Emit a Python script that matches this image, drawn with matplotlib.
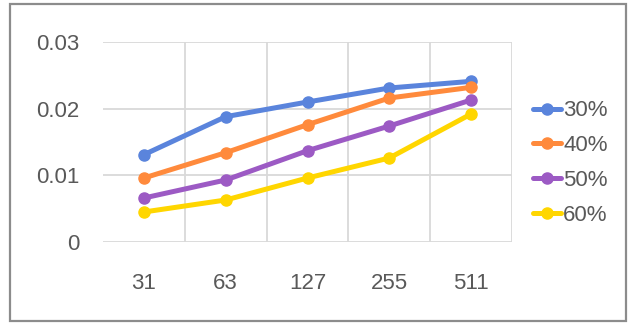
import matplotlib
matplotlib.use("Agg")
import matplotlib.pyplot as plt
from matplotlib.patches import Rectangle

# data
categories = ["31", "63", "127", "255", "511"]
series_names = ["30%", "40%", "50%", "60%"]
s30 = [0.0131, 0.0188, 0.0210, 0.0231, 0.0241]
s40 = [0.0096, 0.0134, 0.0176, 0.0216, 0.0232]
s50 = [0.0066, 0.0093, 0.0137, 0.0174, 0.0213]
s60 = [0.0045, 0.0063, 0.0096, 0.0126, 0.0192]
yticks = [0, 0.01, 0.02, 0.03]
ytick_labels = ["0", "0.01", "0.02", "0.03"]

colors = ["#5A84DC", "#FF8A3C", "#9C5AC4", "#FFD600"]

plt.rcParams["font.family"] = ["Liberation Sans", "DejaVu Sans"]
text_color = "#595959"

fig = plt.figure(figsize=(6.3, 3.23), dpi=100)
ax = fig.add_axes([103 / 630, 1 - 242 / 323, 409 / 630, 200 / 323])

x = list(range(len(categories)))
for vals, name, c in zip([s30, s40, s50, s60], series_names, colors):
    ax.plot(x, vals, color=c, linewidth=3.6, marker="o", markersize=8,
            label=name, solid_capstyle="round", zorder=3)

ax.set_xlim(-0.5, len(categories) - 0.5)
ax.set_ylim(0, 0.03)
ax.set_yticks(yticks)
ax.set_yticklabels(ytick_labels)
ax.set_xticks(x)
ax.set_xticklabels(categories)

# category boundaries for vertical gridlines
for b in [i + 0.5 for i in range(len(categories))]:
    ax.axvline(b, color="#D9D9D9", linewidth=1.3, zorder=1)
for yv in yticks:
    ax.axhline(yv, color="#D9D9D9", linewidth=1.3, zorder=1)

for s in ax.spines.values():
    s.set_visible(False)
ax.tick_params(axis="both", length=0, labelsize=16, colors=text_color)
ax.tick_params(axis="y", pad=17)
ax.tick_params(axis="x", pad=22)

fig.legend(loc="center left", bbox_to_anchor=(533 / 630, 1 - 163 / 323),
           frameon=False, fontsize=16, handlelength=1.25, handletextpad=0.1,
           labelspacing=0.62, borderpad=0, borderaxespad=0, labelcolor=text_color)

# outer chart border
fig.patches.append(Rectangle((10 / 630, 2 / 323), 616 / 630, 317 / 323,
                             transform=fig.transFigure, fill=False,
                             edgecolor="#8C8C8C", linewidth=1.6))

fig.savefig("out.png", dpi=100)
